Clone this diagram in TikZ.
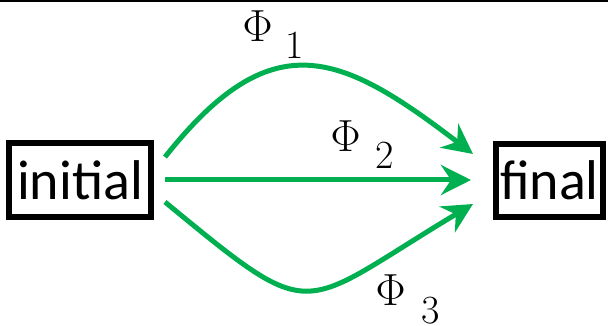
\RequirePackage{fix-cm}
\documentclass[tikz,border=0pt]{standalone}
\usepackage[no-math]{fontspec}
\newfontfamily\carlito{Carlito}
\usetikzlibrary{arrows.meta}
\definecolor{arrgreen}{RGB}{0,176,80}
\newcommand{\philab}[3]{{\fontsize{45}{50}\selectfont$\Phi$}\hspace{#1}\raisebox{-#3}{\fontsize{40}{44}\selectfont #2}}
\tikzset{
  statebox/.style={draw=black, line width=6pt, inner sep=0pt, outer sep=0pt,
    font=\carlito\fontsize{56}{60}\selectfont},
  flow/.style={draw=arrgreen, line width=5pt,
    -{Stealth[length=30pt, width=30pt, inset=10pt]}},
  philabel/.style={inner sep=0pt, outer sep=0pt, anchor=base west}
}
\begin{document}
\begin{tikzpicture}[x=1pt, y=-1pt]
\useasboundingbox (0,0) rectangle (608,326);
\draw[line width=2.5pt] (0,1.2) coordinate (tl) -- (608,1.2) coordinate (tr);
\node[statebox, minimum width=142pt, minimum height=74pt] (init) at (80,180) {initial};
\node[statebox, minimum width=107pt, minimum height=73pt] (fin) at (549.5,180.5) {final};
\coordinate (s1) at (165,157);
\coordinate (s2) at (165,180);
\coordinate (s3) at (165,202);
\coordinate (e1) at (473,154);
\coordinate (e2) at (471,180);
\coordinate (e3) at (473,204);
\draw[flow] (s1) .. controls (272,22) and (340,52) .. (e1);
\draw[flow] (s2) -- (e2);
\draw[flow] (s3) .. controls (318,328) and (296,310) .. (e3);
\node[philabel] (p1) at (242.5,42) {\philab{13pt}{1}{16.5pt}};
\node[philabel] (p2) at (330.5,152) {\philab{15pt}{2}{16.5pt}};
\node[philabel] (p3) at (375.5,305) {\philab{15.5pt}{3}{18pt}};
\end{tikzpicture}
\end{document}
